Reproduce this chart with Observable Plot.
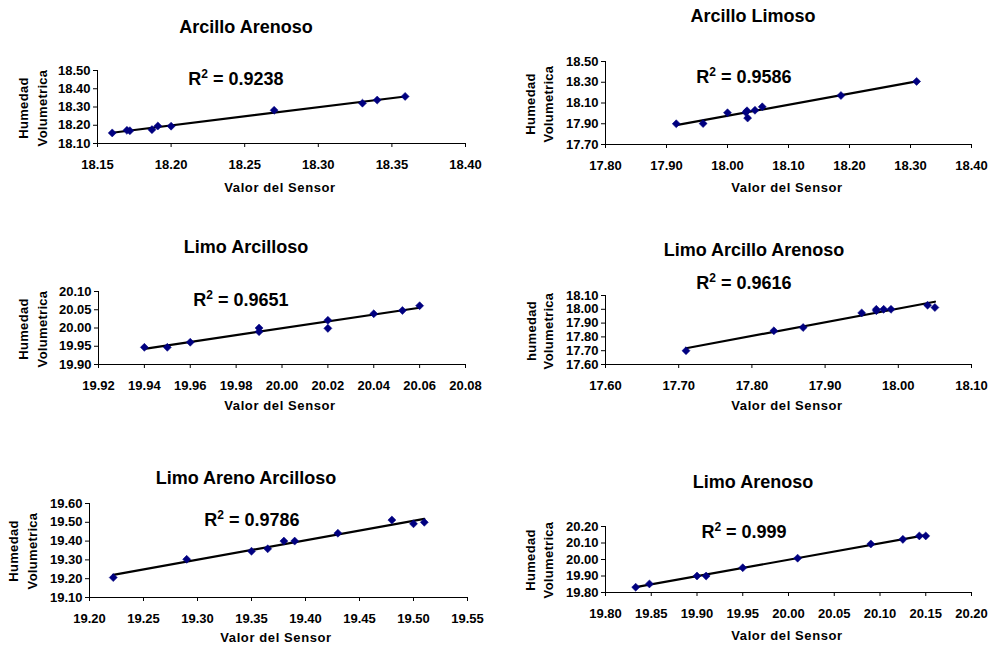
<!DOCTYPE html>
<html><head><meta charset="utf-8">
<script src="https://cdn.jsdelivr.net/npm/d3@7"></script>
<script src="https://cdn.jsdelivr.net/npm/@observablehq/plot@0.6"></script>
<style>
body{margin:0;background:#fff;}
#chart{position:relative;width:990px;height:645px;background:#fff;overflow:hidden;
  font-family:Arial,"Liberation Sans",sans-serif;font-weight:bold;color:#000;}
.abs{position:absolute;white-space:nowrap;line-height:1;transform:translate(-50%,-50%);}
.rot{transform:translate(-50%,-50%) rotate(-90deg);}
.title{font-size:18px;}
.r2{font-size:18px;}
.r2 sup{font-size:12px;vertical-align:0;position:relative;top:-7px;}
.xl{font-size:13px;letter-spacing:0.6px;}
.yl{font-size:13px;letter-spacing:0.3px;}
svg{position:absolute;overflow:visible;}
</style></head>
<body><div id="chart"></div>
<script>
// ---- Data ----
const titles = ["Arcillo Arenoso","Arcillo Limoso","Limo Arcilloso","Limo Arcillo Arenoso","Limo Areno Arcilloso","Limo Arenoso"];
const r2Values = ["0.9238","0.9586","0.9651","0.9616","0.9786","0.999"];
const yTitleFirst = ["Humedad","Humedad","Humedad","humedad","Humedad","Humedad"];
const yTitleSecond = "Volumetrica";
const xTitle = "Valor del Sensor";

const x1 = [18.160,18.170,18.172,18.187,18.191,18.200,18.270,18.330,18.340,18.359];
const y1 = [18.158,18.172,18.170,18.176,18.196,18.195,18.282,18.321,18.338,18.358];
const x2 = [17.916,17.960,18.000,18.030,18.032,18.033,18.045,18.057,18.186,18.310];
const y2 = [17.900,17.902,18.006,18.010,18.025,17.955,18.030,18.063,18.172,18.308];
const x3 = [19.940,19.950,19.960,19.990,19.990,20.020,20.020,20.040,20.0525,20.060];
const y3 = [19.947,19.947,19.961,20.000,19.990,20.021,19.999,20.039,20.048,20.061];
const x4 = [17.710,17.830,17.870,17.950,17.970,17.970,17.980,17.990,18.040,18.050];
const y4 = [17.700,17.844,17.868,17.974,18.000,17.990,18.000,18.000,18.030,18.013];
const x5 = [19.222,19.290,19.350,19.365,19.380,19.390,19.430,19.480,19.500,19.510];
const y5 = [19.206,19.303,19.346,19.359,19.400,19.400,19.442,19.512,19.492,19.500];
const x6 = [19.833,19.848,19.900,19.910,19.950,20.010,20.090,20.125,20.143,20.150];
const y6 = [19.832,19.852,19.900,19.900,19.950,20.008,20.094,20.122,20.143,20.143];

const xTicks1 = [18.15,18.20,18.25,18.30,18.35,18.40];
const yTicks1 = [18.10,18.20,18.30,18.40,18.50];
const xTicks2 = [17.80,17.90,18.00,18.10,18.20,18.30,18.40];
const yTicks2 = [17.70,17.90,18.10,18.30,18.50];
const xTicks3 = [19.92,19.94,19.96,19.98,20.00,20.02,20.04,20.06,20.08];
const yTicks3 = [19.90,19.95,20.00,20.05,20.10];
const xTicks4 = [17.60,17.70,17.80,17.90,18.00,18.10];
const yTicks4 = [17.60,17.70,17.80,17.90,18.00,18.10];
const xTicks5 = [19.20,19.25,19.30,19.35,19.40,19.45,19.50,19.55];
const yTicks5 = [19.10,19.20,19.30,19.40,19.50,19.60];
const xTicks6 = [19.80,19.85,19.90,19.95,20.00,20.05,20.10,20.15,20.20];
const yTicks6 = [19.80,19.90,20.00,20.10,20.20];

// ---- Layout (pixel positions of each panel) ----
const layout = [
  {left:0,   frame:[97,465,70,143],   title:[246,27],  r2:[236,79],  xl:[280,187], yl:[23,42]},
  {left:495, frame:[605,971,61,144],  title:[753,16],  r2:[744,77],  xl:[787,187], yl:[530,548]},
  {left:0,   frame:[98,465,291,364],  title:[246,247], r2:[241,300], xl:[280,405], yl:[23,42]},
  {left:495, frame:[605,971,295,364], title:[754,250], r2:[744,283], xl:[787,405], yl:[531,548]},
  {left:0,   frame:[89,467,503,597],  title:[246,478], r2:[252,520], xl:[276,637], yl:[13,32]},
  {left:495, frame:[605,971,526,592], title:[753,482], r2:[744,532], xl:[787,635], yl:[530,548]}
];

const xs = [x1,x2,x3,x4,x5,x6];
const ys = [y1,y2,y3,y4,y5,y6];
const xT = [xTicks1,xTicks2,xTicks3,xTicks4,xTicks5,xTicks6];
const yT = [yTicks1,yTicks2,yTicks3,yTicks4,yTicks5,yTicks6];

const chart = document.getElementById("chart");
const fmt = d3.format(".2f");

function addDiv(cls, html, cx, cy) {
  const d = document.createElement("div");
  d.className = "abs " + cls;
  d.innerHTML = html;
  d.style.left = cx + "px";
  d.style.top = cy + "px";
  chart.appendChild(d);
}

layout.forEach((L, i) => {
  const data = xs[i].map((x, k) => ({x, y: ys[i][k]}));
  const xd = [xT[i][0], xT[i][xT[i].length - 1]];
  const yd = [yT[i][0], yT[i][yT[i].length - 1]];
  const [fx0, fx1, fy0, fy1] = L.frame;
  const top = fy0 - 12, width = 495, height = fy1 - top + 34;
  const svg = Plot.plot({
    width, height,
    marginLeft: fx0 - L.left, marginRight: L.left + width - fx1,
    marginTop: fy0 - top, marginBottom: height - (fy1 - top),
    style: {fontFamily: 'Arial, "Liberation Sans", sans-serif', fontSize: "13px", fontWeight: "bold", color: "#000", background: "transparent", overflow: "visible"},
    x: {domain: xd, ticks: xT[i], tickFormat: fmt, tickSize: 4, tickPadding: 12, label: null},
    y: {domain: yd, ticks: yT[i], tickFormat: fmt, tickSize: 4, tickPadding: 3, label: null},
    marks: [
      Plot.ruleY([yd[0]], {stroke: "#000", strokeWidth: 1}),
      Plot.ruleX([xd[0]], {stroke: "#000", strokeWidth: 1}),
      Plot.linearRegressionY(data, {x: "x", y: "y", stroke: "#000", strokeWidth: 2.2, ci: 0}),
      Plot.dot(data, {x: "x", y: "y", symbol: "square", rotate: 45, r: 3.2, fill: "#000080", stroke: "#000080", strokeWidth: 0.5})
    ]
  });
  svg.style.left = L.left + "px";
  svg.style.top = top + "px";
  chart.appendChild(svg);

  addDiv("title", titles[i], L.title[0], L.title[1]);
  addDiv("r2", "R<sup>2</sup> = " + r2Values[i], L.r2[0], L.r2[1]);
  addDiv("xl", xTitle, L.xl[0], L.xl[1]);
  const ymid = (fy0 + fy1) / 2 + 1;
  addDiv("yl rot", yTitleFirst[i], L.yl[0], ymid);
  addDiv("yl rot", yTitleSecond, L.yl[1], ymid);
});
</script>
</body></html>
